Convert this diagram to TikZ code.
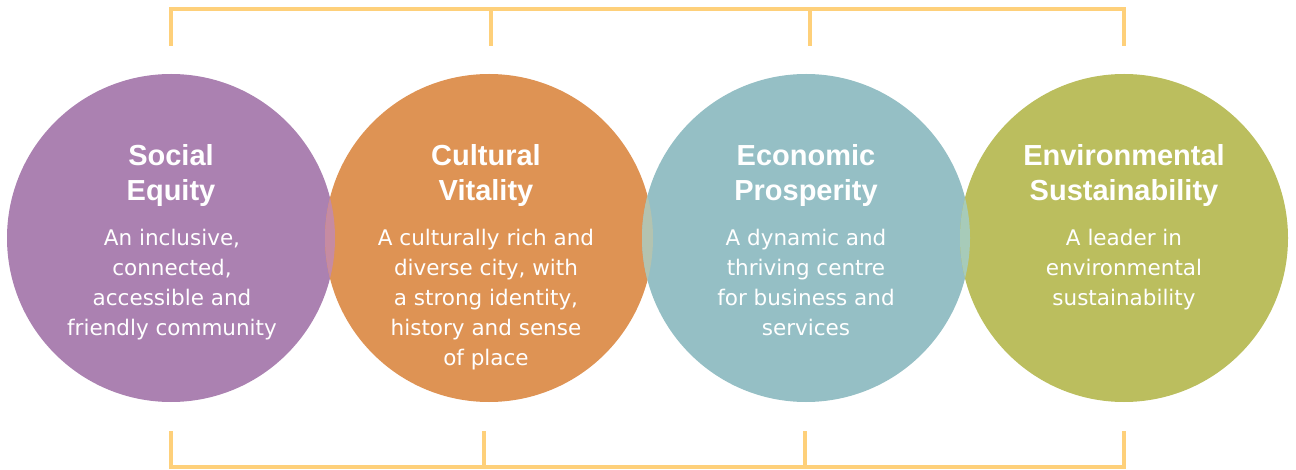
\documentclass[tikz,border=0pt]{standalone}
\usepackage{fontspec}
\usepackage{xcolor}
\usepackage{tikz}
\newfontfamily\headfont{Liberation Sans}
\newfontfamily\bodyfont{DejaVu Sans}
\definecolor{equity}{RGB}{171,129,177}
\definecolor{culture}{RGB}{222,147,84}
\definecolor{economy}{RGB}{149,191,197}
\definecolor{environ}{RGB}{187,190,94}
\definecolor{lensec}{RGB}{198,139,162}
\definecolor{lensce}{RGB}{179,195,176}
\definecolor{lensee}{RGB}{167,203,185}
\definecolor{bracket}{RGB}{254,208,122}
\tikzset{
	basic/.style = {inner sep=0pt, text=white, align=center, anchor=north},
	title/.style = {basic, font=\headfont\bfseries\fontsize{29}{35}\selectfont},
	body/.style = {basic, font=\bodyfont\fontsize{21.5}{30}\selectfont},
	link/.style = {draw=bracket, line width=4pt, line join=miter}
}

\begin{document}
\begin{tikzpicture}[x=1pt, y=-1pt]
	\useasboundingbox (0,0) rectangle (1296,470);
	\fill[equity] (171,238) circle (164);
	\fill[culture] (489,238) circle (164);
	\fill[economy] (806,238) circle (164);
	\fill[environ] (1124,238) circle (164);
	\begin{scope}
		\clip (171,238) circle (164);
		\fill[lensec] (489,238) circle (164);
	\end{scope}
	\begin{scope}
		\clip (489,238) circle (164);
		\fill[lensce] (806,238) circle (164);
	\end{scope}
	\begin{scope}
		\clip (806,238) circle (164);
		\fill[lensee] (1124,238) circle (164);
	\end{scope}
	\node[title] (t1) at (171,144) {Social\\Equity};
	\node[title] (t2) at (486,144) {Cultural\\Vitality};
	\node[title] (t3) at (806,144) {Economic\\Prosperity};
	\node[title] (t4) at (1124,144) {Environmental\\Sustainability};
	\node[body] (b1) at (172,229) {An inclusive,\\connected,\\accessible and\\friendly community};
	\node[body] (b2) at (486,229) {A culturally rich and\\diverse city, with\\a strong identity,\\history and sense\\of place};
	\node[body] (b3) at (806,229) {A dynamic and\\thriving centre\\for business and\\services};
	\node[body] (b4) at (1124,229) {A leader in\\environmental\\sustainability};
	\coordinate (ta) at (171,9); \coordinate (tb) at (491,9);
	\coordinate (tc) at (810,9); \coordinate (td) at (1124,9);
	\coordinate (ba) at (171,467); \coordinate (bb) at (484,467);
	\coordinate (bc) at (805,467); \coordinate (bd) at (1124,467);
	\draw[link] ([yshift=-37]ta) -- (ta) -- (td) -- ([yshift=-37]td);
	\draw[link] (tb) -- ([yshift=-37]tb);
	\draw[link] (tc) -- ([yshift=-37]tc);
	\draw[link] ([yshift=36]ba) -- (ba) -- (bd) -- ([yshift=36]bd);
	\draw[link] (bb) -- ([yshift=36]bb);
	\draw[link] (bc) -- ([yshift=36]bc);
\end{tikzpicture}
\end{document}
